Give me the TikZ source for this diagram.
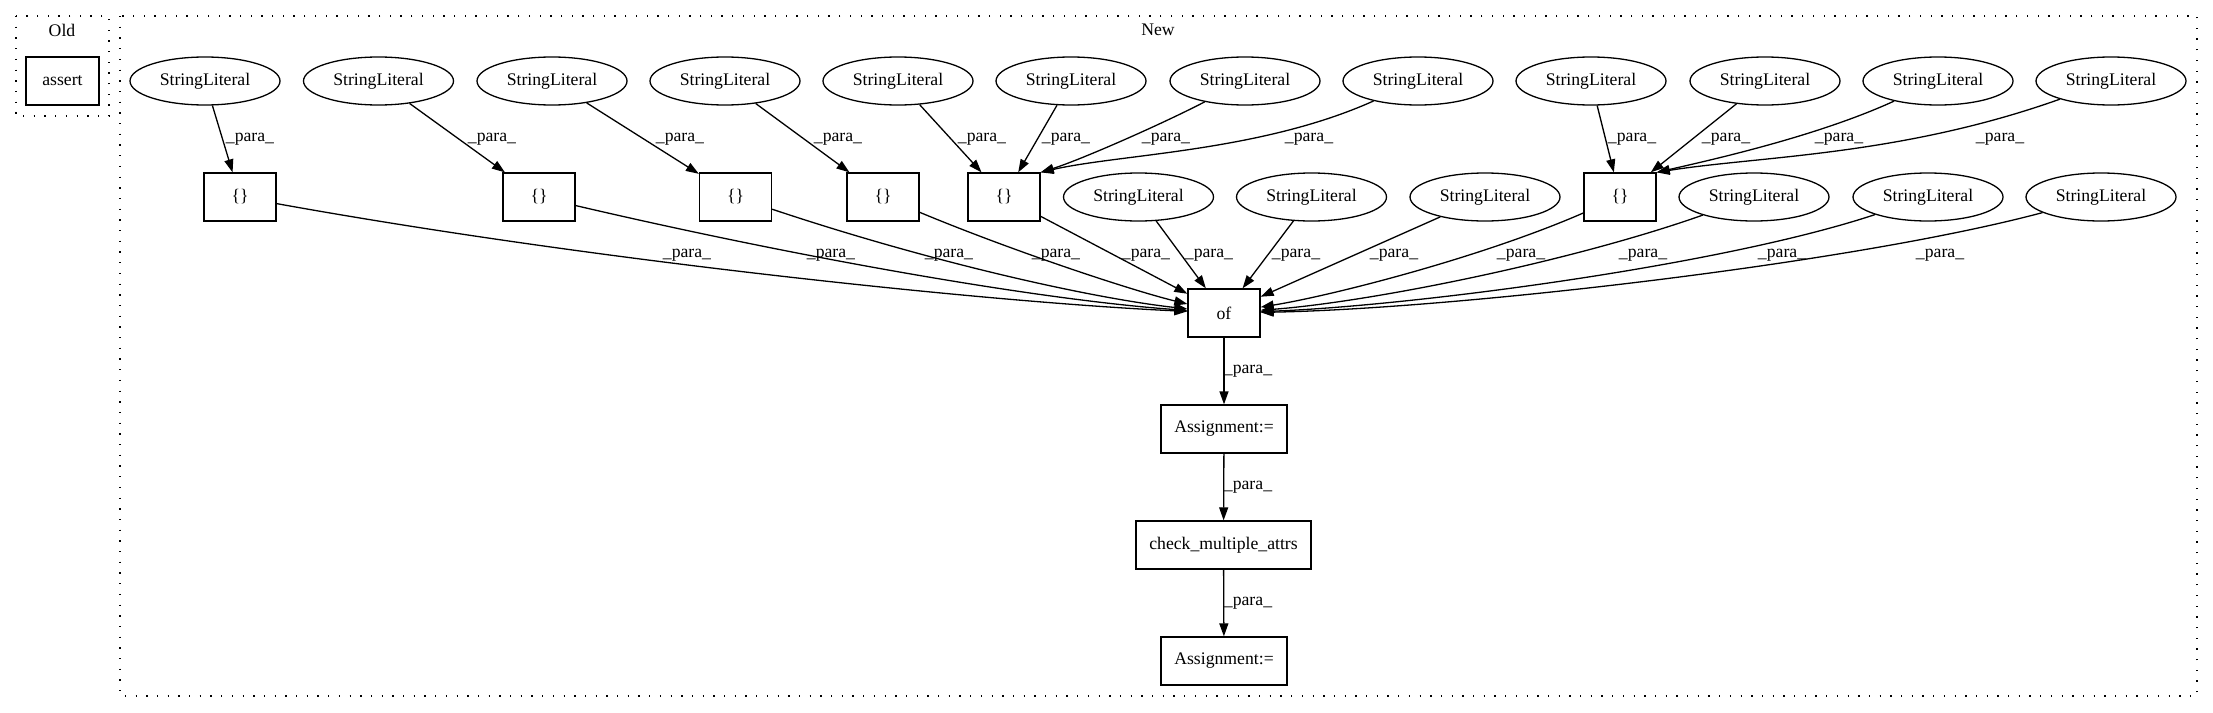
\documentclass[tikz,border=0pt]{standalone}
\usepackage{fontspec}
\setmainfont{Liberation Serif}
\usepackage{tikz}
\usetikzlibrary{arrows.meta,shapes.geometric}

\begin{document}
\begin{tikzpicture}[x=1pt, y=-1pt, font=\fontsize{17.7}{21}\selectfont,
  lit/.style={draw, ellipse, line width=1.3pt, minimum width=150pt,
    minimum height=48pt, inner sep=0pt},
  box/.style={draw, rectangle, line width=1.3pt, minimum height=48pt,
    minimum width=72pt, inner sep=0pt},
  lbl/.style={inner sep=0pt},
  arr/.style={-{Triangle[length=13pt,width=9pt]}, line width=1.3pt},
  cluster/.style={line width=1.3pt, dash pattern=on 1.3pt off 9.4pt}
]
  \useasboundingbox (0,0) rectangle (2213,712);
  \draw[cluster] (16,16) rectangle (109,116);
  \draw[cluster] (120,16) rectangle (2197,696);
  \node (oldtitle) at (62,30) {Old};
  \node (newtitle) at (1158,30) {New};
  \node[box, minimum width=73pt] (assert) at (62.5,81) {assert};

  \node[lit] (s1) at (205,81) {StringLiteral};
  \node[lit] (s2) at (378.5,81) {StringLiteral};
  \node[lit] (s3) at (552,81) {StringLiteral};
  \node[lit] (s4) at (725,81) {StringLiteral};
  \node[lit] (s5) at (898,81) {StringLiteral};
  \node[lit] (s6) at (1071,81) {StringLiteral};
  \node[lit] (s7) at (1245,81) {StringLiteral};
  \node[lit] (s8) at (1418,81) {StringLiteral};
  \node[lit] (s9) at (1591,81) {StringLiteral};
  \node[lit] (s10) at (1765,81) {StringLiteral};
  \node[lit] (s11) at (1938,81) {StringLiteral};
  \node[lit] (s12) at (2111,81) {StringLiteral};

  \node[box] (c1) at (240,197) {\{\}};
  \node[box] (c2) at (539,197) {\{\}};
  \node[box] (c3) at (735.5,197) {\{\}};
  \node[box] (c4) at (883,197) {\{\}};
  \node[box] (c5) at (1004,197) {\{\}};
  \node[lit] (s13) at (1138.5,197) {StringLiteral};
  \node[lit] (s14) at (1311.5,197) {StringLiteral};
  \node[lit] (s15) at (1485,197) {StringLiteral};
  \node[box] (c6) at (1620,197) {\{\}};
  \node[lit] (s16) at (1754,197) {StringLiteral};
  \node[lit] (s17) at (1928,197) {StringLiteral};
  \node[lit] (s18) at (2101,197) {StringLiteral};

  \node[box] (of) at (1224,313) {of};
  \node[box, minimum width=126pt] (asg1) at (1224,429) {Assignment:=};
  \node[box, minimum width=175pt] (check) at (1223.5,545) {check\_multiple\_attrs};
  \node[box, minimum width=126pt] (asg2) at (1224,661) {Assignment:=};

  \draw[arr] (s1) -- (c1);
  \draw[arr] (s2) -- (c2);
  \draw[arr] (s3) -- (c3);
  \draw[arr] (s4) -- (c4);
  \draw[arr] (s5) -- (c5);
  \draw[arr] (s6) -- (c5);
  \draw[arr] (s7) .. controls (1160,125) and (1080,160) .. (c5.north east);
  \draw[arr] (s8) .. controls (1260,152) and (1120,154) .. (c5.north east);
  \draw[arr] (s9) -- (c6);
  \draw[arr] (s10) -- (c6);
  \draw[arr] (s11) .. controls (1820,135) and (1720,158) .. (c6.north east);
  \draw[arr] (s12) .. controls (1900,156) and (1760,156) .. (c6.north east);

  \draw[arr] (c1) .. controls (600,262) and (1000,303) .. (of);
  \draw[arr] (c2) .. controls (800,258) and (1040,300) .. (of);
  \draw[arr] (c3) .. controls (930,262) and (1090,298) .. (of);
  \draw[arr] (c4) .. controls (1010,250) and (1130,290) .. (of);
  \draw[arr] (c5) -- (of);
  \draw[arr] (s13) -- (of);
  \draw[arr] (s14) -- (of);
  \draw[arr] (s15) -- (of);
  \draw[arr] (c6) .. controls (1480,258) and (1330,296) .. (of);
  \draw[arr] (s16) .. controls (1570,262) and (1370,302) .. (of);
  \draw[arr] (s17) .. controls (1720,266) and (1410,306) .. (of);
  \draw[arr] (s18) .. controls (1850,264) and (1450,309) .. (of);

  \draw[arr] (of) -- (asg1);
  \draw[arr] (asg1) -- (check);
  \draw[arr] (check) -- (asg2);

  \node[lbl] (p1) at (250,139) {\_para\_};
  \node[lbl] (p2) at (492,139) {\_para\_};
  \node[lbl] (p3) at (680,139) {\_para\_};
  \node[lbl] (p4) at (838,139) {\_para\_};
  \node[lbl] (p5) at (982,139) {\_para\_};
  \node[lbl] (p6) at (1066,139) {\_para\_};
  \node[lbl] (p7) at (1166,139) {\_para\_};
  \node[lbl] (p8) at (1309,139) {\_para\_};
  \node[lbl] (p9) at (1632,139) {\_para\_};
  \node[lbl] (p10) at (1726,139) {\_para\_};
  \node[lbl] (p11) at (1839,139) {\_para\_};
  \node[lbl] (p12) at (2000,139) {\_para\_};

  \node[lbl] (p13) at (687,255) {\_para\_};
  \node[lbl] (p14) at (831,255) {\_para\_};
  \node[lbl] (p15) at (949,255) {\_para\_};
  \node[lbl] (p16) at (1056,255) {\_para\_};
  \node[lbl] (p17) at (1146,255) {\_para\_};
  \node[lbl] (p18) at (1209,255) {\_para\_};
  \node[lbl] (p19) at (1296,255) {\_para\_};
  \node[lbl] (p20) at (1394,255) {\_para\_};
  \node[lbl] (p21) at (1521,255) {\_para\_};
  \node[lbl] (p22) at (1643,255) {\_para\_};
  \node[lbl] (p23) at (1782,255) {\_para\_};
  \node[lbl] (p24) at (1940,255) {\_para\_};

  \node[lbl] (p25) at (1248,371) {\_para\_};
  \node[lbl] (p26) at (1248,487) {\_para\_};
  \node[lbl] (p27) at (1248,603) {\_para\_};
\end{tikzpicture}
\end{document}
